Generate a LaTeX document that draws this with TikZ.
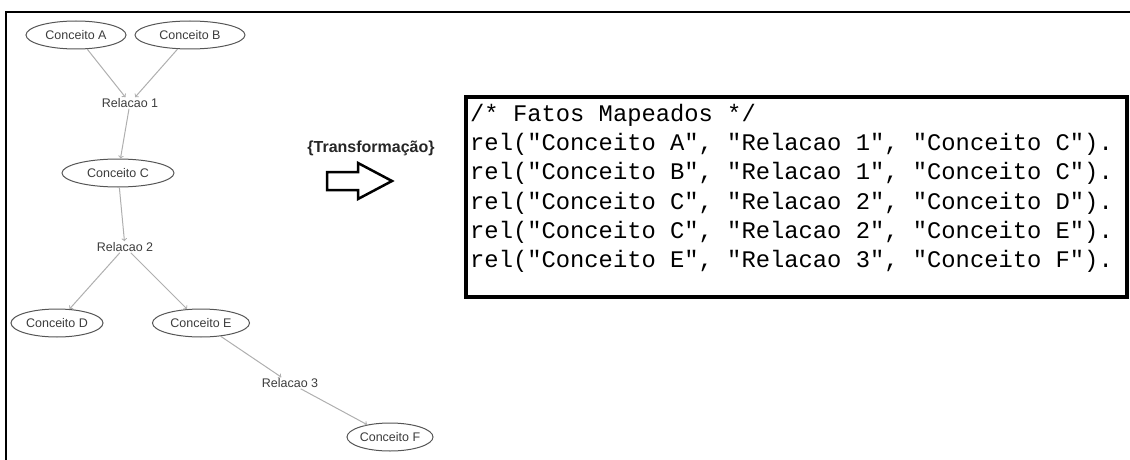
\documentclass[tikz,border=0pt]{standalone}
\usepackage{fontspec}
\setmainfont{Liberation Sans}
\setmonofont{Liberation Mono}
\usepackage{xcolor}
\usetikzlibrary{shapes.geometric, arrows, positioning}
\definecolor{conceptgray}{RGB}{85,85,85}
\definecolor{labelgray}{RGB}{60,60,60}
\definecolor{edgegray}{RGB}{175,175,175}
\tikzset{
  concept/.style={ellipse, draw=conceptgray, line width=1pt, minimum height=28pt, inner sep=0pt, text=labelgray, font=\fontsize{12.5}{14}\selectfont},
  relation/.style={inner sep=1pt, text=labelgray, font=\fontsize{12.5}{14}\selectfont},
  link/.style={->, draw=edgegray, line width=1pt}
}

\begin{document}
\begin{tikzpicture}[x=1pt, y=-1pt]
\useasboundingbox (0,0) rectangle (1130,460);
% Frame round the whole figure
\draw[line width=2pt] (6,460) -- (6,12) -- (1130,12);

% Concept map
\node[concept, minimum width=100pt] (conA) at (76,35) {Conceito A};
\node[concept, minimum width=110pt] (conB) at (190,35) {Conceito B};
\node[relation] (rel1) at (130,103) {Relacao 1};
\node[concept, minimum width=112pt] (conC) at (118,173) {Conceito C};
\node[relation] (rel2) at (125,247) {Relacao 2};
\node[concept, minimum width=92pt] (conD) at (57,323) {Conceito D};
\node[concept, minimum width=97pt] (conE) at (201,323) {Conceito E};
\node[relation] (rel3) at (290,383) {Relacao 3};
\node[concept, minimum width=86pt] (conF) at (390,437) {Conceito F};

\draw[link] (conA) -- (rel1);
\draw[link] (conB) -- (rel1);
\draw[link] (rel1) -- (conC);
\draw[link] (conC) -- (rel2);
\draw[link] (rel2) -- (conD);
\draw[link] (rel2) -- (conE);
\draw[link] (conE) -- (rel3);
\draw[link] (rel3) -- (conF);

% Transformation arrow
\node[font=\bfseries\fontsize{16}{18}\selectfont, text=black!85] (trans) at (371,148) {\{Transformação\}};
\coordinate (tail) at (327,181);
\draw[line width=2.5pt, line join=miter] (tail) ++(0,-9) -- ++(31,0) -- ++(0,-9) -- ++(34,18) -- ++(-34,18) -- ++(0,-9) -- ++(-31,0) -- cycle;

% Mapped facts
\node[draw, line width=4pt, outer sep=0pt, anchor=north west, minimum width=661pt, minimum height=200pt] (factbox) at (466,97) {};
\node[anchor=north west, inner sep=0pt, align=left, font=\ttfamily\fontsize{23.8}{29.2}\selectfont] (facts) at (470,104)
{/* Fatos Mapeados */\\
rel("Conceito A", "Relacao 1", "Conceito C").\\
rel("Conceito B", "Relacao 1", "Conceito C").\\
rel("Conceito C", "Relacao 2", "Conceito D").\\
rel("Conceito C", "Relacao 2", "Conceito E").\\
rel("Conceito E", "Relacao 3", "Conceito F").};
\end{tikzpicture}
\end{document}
